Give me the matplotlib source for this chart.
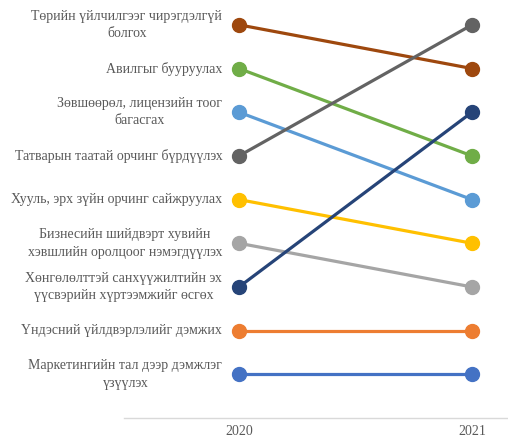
import matplotlib.pyplot as plt

years = ['2020', '2021']

labels = [
    'Төрийн үйлчилгээг чирэгдэлгүй\nболгох',
    'Авилгыг бууруулах',
    'Зөвшөөрөл, лицензийн тоог\nбагасгах',
    'Татварын таатай орчинг бүрдүүлэх',
    'Хууль, эрх зүйн орчинг сайжруулах',
    'Бизнесийн шийдвэрт хувийн\nхэвшлийн оролцоог нэмэгдүүлэх',
    'Хөнгөлөлттэй санхүүжилтийн эх\nүүсвэрийн хүртээмжийг өсгөх',
    'Үндэсний үйлдвэрлэлийг дэмжих',
    'Маркетингийн тал дээр дэмжлэг\nүзүүлэх',
]
rank_2020 = [1, 2, 3, 4, 5, 6, 7, 8, 9]
rank_2021 = [2, 4, 5, 1, 6, 7, 3, 8, 9]
colors = ['#9E480E', '#70AD47', '#5B9BD5', '#636363', '#FFC000',
          '#A5A5A5', '#264478', '#ED7D31', '#4472C4']

plt.rcParams['font.family'] = ['Liberation Serif', 'DejaVu Serif']

fig = plt.figure(figsize=(5.08, 4.41), dpi=100)
ax = fig.add_axes([124 / 508, 23 / 441, 1 - 124 / 508, 415 / 441])

x = [0, 1]
for lab, a, b, c in zip(labels, rank_2020, rank_2021, colors):
    ax.plot(x, [a, b], '-o', color=c, lw=2.3, ms=10, solid_capstyle='butt')
    ax.annotate(lab, (0, a), xytext=(-12, 0), textcoords='offset points',
                ha='right', va='center', multialignment='center',
                linespacing=1.45, fontsize=10, color='#595959',
                annotation_clip=False)

ax.set_xlim(-0.4936, 1.1545)
ax.set_ylim(10, 0.5)
ax.set_xticks(x)
ax.set_xticklabels(years, fontsize=10, color='#595959')
ax.set_yticks([])
ax.tick_params(axis='x', length=0, pad=5)
for side in ['top', 'right', 'left']:
    ax.spines[side].set_visible(False)
ax.spines['bottom'].set_color('#D9D9D9')
ax.spines['bottom'].set_linewidth(1)

plt.savefig('out.png', dpi=100)
